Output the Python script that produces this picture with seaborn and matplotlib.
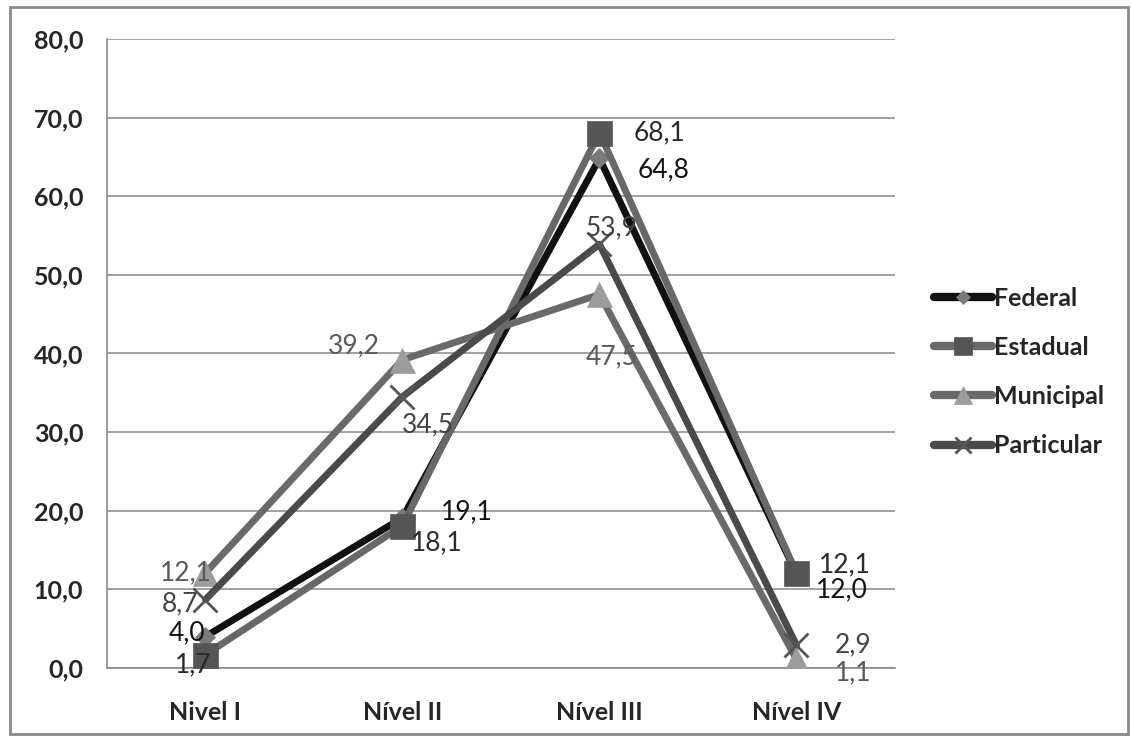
import pandas as pd
import matplotlib.pyplot as plt
import seaborn as sns
from matplotlib.lines import Line2D
from matplotlib.patches import Rectangle

# dados do gráfico
niveis = ["Nivel I", "Nível II", "Nível III", "Nível IV"]
federal = [4.0, 19.1, 64.8, 12.0]
estadual = [1.7, 18.1, 68.1, 12.1]
municipal = [12.1, 39.2, 47.5, 1.1]
particular = [8.7, 34.5, 53.9, 2.9]
series_nomes = ["Federal", "Estadual", "Municipal", "Particular"]

sns.set_style("white")
plt.rcParams["font.family"] = ["Lato", "DejaVu Sans"]

df = pd.DataFrame({
    "pos": list(range(len(niveis))) * 4,
    "valor": federal + estadual + municipal + particular,
    "serie": [s for s in series_nomes for _ in niveis],
})

# estilo de cada série (cor da linha, marcador, cor do marcador, tamanho, cor do rótulo)
estilos = {
    "Federal": dict(line="#111111", marker="D", mfc="#7a7a7a", ms=10, lab="#111111"),
    "Estadual": dict(line="#686868", marker="s", mfc="#555555", ms=18, lab="#2a2a2a"),
    "Municipal": dict(line="#6a6a6a", marker="^", mfc="#9c9c9c", ms=18, lab="#5a5a5a"),
    "Particular": dict(line="#4a4a4a", marker="x", mfc="#555555", ms=17, lab="#444444"),
}
# deslocamento dos rótulos em pontos
offsets = {
    "Federal": [(-13, 3), (46, 4), (46, -8), (33, -12)],
    "Estadual": [(-9, -7), (25, -12), (43, 0), (35, 6)],
    "Municipal": [(-14, 0), (-35, 10), (9, -45), (41, -10)],
    "Particular": [(-18, -3), (18, -20), (9, 12), (41, 0)],
}

fig = plt.figure(figsize=(11.31, 7.38), dpi=100)
ax = fig.add_axes([0.0946, 0.0949, 0.6967, 0.8523])

for nome in series_nomes:
    st = estilos[nome]
    sub = df[df["serie"] == nome]
    sns.lineplot(data=sub, x="pos", y="valor", ax=ax, color=st["line"], linewidth=5,
                 marker=st["marker"], markersize=st["ms"], markerfacecolor=st["mfc"],
                 markeredgecolor=st["mfc"], markeredgewidth=2 if st["marker"] == "x" else 0.5,
                 legend=False, zorder=3)

for nome in series_nomes:
    st = estilos[nome]
    vals = df[df["serie"] == nome]
    for (p, v), off in zip(zip(vals["pos"], vals["valor"]), offsets[nome]):
        ax.annotate(f"{v:.1f}".replace(".", ","), (p, v), xytext=off, textcoords="offset points",
                    ha="center", va="center", fontsize=19, color=st["lab"], zorder=5)

ax.set_xlim(-0.5, 3.5)
ax.set_ylim(0, 80)
ax.set_yticks(range(0, 81, 10))
ax.set_yticklabels([f"{t:.1f}".replace(".", ",") for t in range(0, 81, 10)],
                   fontsize=18, fontweight="bold")
ax.set_xticks(range(len(niveis)))
ax.set_xticklabels(niveis, fontsize=18, fontweight="bold")
ax.set_xticks([-0.5, 0.5, 1.5, 2.5, 3.5], minor=True)
ax.tick_params(axis="x", which="major", length=0, pad=24)
ax.tick_params(axis="x", which="minor", length=10, color="#8a8a8a", width=1.2, direction="out")
ax.tick_params(axis="y", length=9, color="#8a8a8a", width=1.2, direction="out", pad=8)
ax.set_xlabel("")
ax.set_ylabel("")
ax.grid(axis="y", color="#9a9a9a", linewidth=1.3)
ax.set_axisbelow(True)
for s in ["top", "right"]:
    ax.spines[s].set_visible(False)
for s in ["left", "bottom"]:
    ax.spines[s].set_color("#8a8a8a")
    ax.spines[s].set_linewidth(1.2)

handles = []
for nome in series_nomes:
    st = estilos[nome]
    handles.append(Line2D([0], [0], color=st["line"], linewidth=6, marker=st["marker"],
                          markersize=st["ms"] * 0.7, markerfacecolor=st["mfc"],
                          markeredgecolor=st["mfc"], markeredgewidth=2 if st["marker"] == "x" else 0.5,
                          solid_capstyle="round"))
leg = fig.legend(handles, series_nomes, loc="center left", bbox_to_anchor=(0.806, 0.496),
                 frameon=False, handlelength=2.3, handletextpad=0.1, labelspacing=1.05,
                 prop={"size": 18, "weight": "bold"})

fig.patches.append(Rectangle((0.009, 0.005), 0.988, 0.985, transform=fig.transFigure,
                             fill=False, edgecolor="#8a8a8a", linewidth=2))

fig.savefig("out.png", dpi=100)
